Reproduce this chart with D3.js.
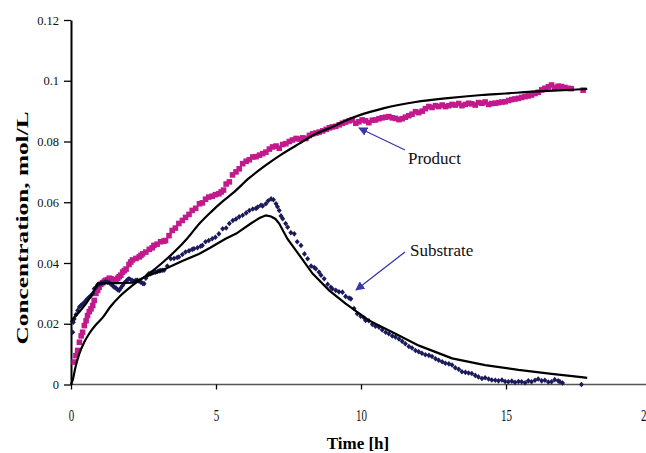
<!DOCTYPE html>
<html><head><meta charset="utf-8">
<script src="https://cdn.jsdelivr.net/npm/d3@7/dist/d3.min.js"></script>
<style>body{margin:0;background:#fff}svg{display:block}</style>
</head><body><svg id="c" width="646" height="453"></svg>
<script>
// Product measured (time h, concentration mol/L)
const productT = [0.11,0.17,0.23,0.29,0.35,0.40,0.46,0.52,0.57,0.63,0.69,0.75,0.80,0.86,0.92,0.97,1.03,1.09,1.15,1.20,1.26,1.32,1.38,1.44,1.49,1.55,1.61,1.66,1.72,1.78,1.84,1.90,2.00,2.06,2.12,2.24,2.35,2.41,2.47,2.58,2.70,2.80,2.86,2.97,3.09,3.20,3.26,3.38,3.49,3.60,3.72,3.84,3.95,4.07,4.18,4.30,4.43,4.53,4.64,4.75,4.87,4.98,5.10,5.18,5.26,5.35,5.46,5.57,5.69,5.80,5.92,6.04,6.15,6.27,6.38,6.50,6.61,6.72,6.84,6.95,7.07,7.18,7.30,7.41,7.53,7.64,7.76,7.87,7.99,8.10,8.22,8.33,8.45,8.56,8.68,8.80,8.91,9.01,9.13,9.25,9.36,9.47,9.59,9.70,9.82,9.93,10.04,10.16,10.27,10.39,10.50,10.62,10.73,10.85,10.96,11.08,11.19,11.31,11.42,11.53,11.65,11.76,11.88,11.99,12.11,12.22,12.34,12.45,12.57,12.68,12.80,12.91,13.03,13.14,13.25,13.37,13.48,13.60,13.71,13.82,13.94,14.05,14.17,14.28,14.40,14.51,14.63,14.74,14.86,14.97,15.09,15.20,15.31,15.43,15.54,15.66,15.77,15.88,16.00,16.11,16.23,16.34,16.46,16.57,16.68,16.80,16.91,17.03,17.14,17.25,17.66];
const productC = [0.0074,0.0095,0.0112,0.0139,0.016,0.0172,0.0194,0.021,0.0227,0.024,0.0249,0.026,0.0277,0.030,0.031,0.032,0.033,0.0335,0.034,0.0343,0.0345,0.035,0.0348,0.0345,0.0343,0.0343,0.035,0.0355,0.036,0.037,0.0375,0.038,0.0395,0.0403,0.041,0.0415,0.042,0.0425,0.043,0.0436,0.0445,0.045,0.0458,0.0462,0.047,0.0472,0.0474,0.049,0.0507,0.0515,0.053,0.054,0.055,0.056,0.0573,0.058,0.0595,0.0598,0.061,0.0617,0.062,0.0625,0.0628,0.0634,0.064,0.066,0.0667,0.069,0.070,0.071,0.0727,0.0735,0.074,0.0749,0.075,0.0755,0.076,0.0765,0.0775,0.0782,0.0785,0.0778,0.079,0.0793,0.080,0.0805,0.081,0.0808,0.0812,0.081,0.082,0.0825,0.0828,0.0831,0.0835,0.084,0.0845,0.0848,0.085,0.0855,0.086,0.0864,0.0868,0.0871,0.086,0.0865,0.0871,0.0868,0.0862,0.087,0.0871,0.0875,0.0878,0.088,0.0882,0.0878,0.0876,0.0872,0.0875,0.088,0.0885,0.089,0.0898,0.0895,0.090,0.0908,0.0915,0.0912,0.0918,0.0915,0.092,0.0915,0.0918,0.0922,0.092,0.0925,0.0918,0.0922,0.0926,0.0924,0.092,0.0928,0.0926,0.093,0.0922,0.0925,0.0926,0.0928,0.093,0.0931,0.0935,0.0938,0.094,0.0942,0.0945,0.0948,0.095,0.0953,0.0958,0.0962,0.097,0.0975,0.098,0.0986,0.0978,0.0982,0.0981,0.0978,0.0975,0.0974,0.0969];

// Substrate measured
const substrateT = [0.06,0.08,0.11,0.17,0.23,0.29,0.34,0.40,0.46,0.52,0.57,0.63,0.69,0.75,0.80,0.86,0.92,0.97,1.03,1.09,1.15,1.20,1.26,1.32,1.38,1.44,1.49,1.55,1.61,1.66,1.72,1.78,1.84,1.90,1.95,2.00,2.06,2.12,2.18,2.24,2.29,2.35,2.41,2.47,2.52,2.58,2.64,2.69,2.75,2.81,2.86,2.92,2.98,3.04,3.09,3.15,3.21,3.32,3.44,3.55,3.66,3.72,3.84,3.95,4.07,4.18,4.24,4.36,4.47,4.53,4.64,4.75,4.87,4.98,5.10,5.23,5.35,5.46,5.58,5.69,5.80,5.92,6.04,6.15,6.27,6.38,6.44,6.55,6.61,6.72,6.80,6.90,6.98,7.07,7.12,7.18,7.24,7.30,7.40,7.47,7.58,7.70,7.80,7.93,8.05,8.16,8.28,8.39,8.44,8.55,8.62,8.73,8.85,8.96,9.01,9.13,9.24,9.36,9.47,9.59,9.65,9.76,9.87,9.99,10.10,10.16,10.27,10.39,10.50,10.62,10.73,10.85,10.96,11.08,11.19,11.31,11.42,11.53,11.65,11.76,11.88,11.99,12.10,12.22,12.34,12.45,12.57,12.68,12.80,12.91,13.03,13.14,13.25,13.37,13.48,13.60,13.71,13.82,13.94,14.05,14.17,14.28,14.40,14.51,14.63,14.74,14.86,14.97,15.08,15.20,15.31,15.43,15.54,15.66,15.77,15.88,16.00,16.11,16.23,16.34,16.46,16.57,16.68,16.80,16.86,16.95,17.60];
const substrateC = [0.0172,0.0205,0.0216,0.023,0.0244,0.0255,0.026,0.0265,0.027,0.0277,0.0282,0.0288,0.0293,0.030,0.0315,0.032,0.0328,0.033,0.0332,0.0335,0.0336,0.0338,0.0337,0.0335,0.033,0.0325,0.032,0.0318,0.0312,0.031,0.0318,0.0326,0.0335,0.034,0.0345,0.0348,0.0345,0.0342,0.034,0.0343,0.0343,0.034,0.0337,0.0333,0.0332,0.035,0.036,0.0365,0.0365,0.0368,0.037,0.037,0.0372,0.0374,0.0375,0.0376,0.0376,0.039,0.0414,0.0415,0.0418,0.042,0.0428,0.0436,0.044,0.0445,0.0447,0.045,0.0455,0.0458,0.047,0.0474,0.048,0.0485,0.0496,0.0513,0.0515,0.053,0.054,0.0545,0.0552,0.0557,0.0565,0.0573,0.0578,0.058,0.0584,0.059,0.0588,0.0595,0.0605,0.0611,0.0608,0.0595,0.0585,0.0573,0.0555,0.0546,0.053,0.0518,0.050,0.0496,0.047,0.0458,0.043,0.0414,0.039,0.0385,0.0381,0.037,0.036,0.0348,0.033,0.032,0.0315,0.031,0.0305,0.0304,0.029,0.0285,0.0282,0.025,0.0233,0.0225,0.022,0.0211,0.021,0.0198,0.0192,0.0189,0.018,0.0172,0.0167,0.016,0.0156,0.015,0.0142,0.0134,0.0125,0.012,0.0112,0.0108,0.0103,0.0098,0.0096,0.0092,0.0085,0.008,0.0075,0.007,0.0068,0.0064,0.0055,0.005,0.0042,0.004,0.0038,0.0036,0.003,0.0025,0.002,0.0022,0.0018,0.0015,0.0014,0.0012,0.0015,0.001,0.0009,0.0011,0.0007,0.001,0.0009,0.0006,0.0012,0.0009,0.0014,0.0018,0.0012,0.0014,0.0008,0.0009,0.0016,0.0012,0.0009,0.0005,0.0];

// Model curves
const productModelT = [0,0.06,0.15,0.29,0.45,0.63,0.85,1.09,1.35,1.66,2.12,2.69,3.2,3.61,4.0,4.43,4.85,5.27,5.58,6.15,6.72,7.3,7.87,8.4,9.01,9.5,9.93,10.8,11.88,13.0,14.17,15.0,15.88,16.8,17.6,17.8];
const productModelC = [0,0.0015,0.0055,0.0102,0.0138,0.0168,0.0196,0.022,0.0255,0.0288,0.0326,0.0365,0.0405,0.0441,0.048,0.053,0.057,0.0606,0.063,0.068,0.0722,0.076,0.0793,0.0823,0.0848,0.087,0.0886,0.091,0.093,0.0943,0.0953,0.0958,0.0964,0.0968,0.0972,0.0973];
const substrateModelT = [0,0.06,0.3,0.52,0.75,0.92,1.2,1.55,2.12,2.69,3.26,3.8,4.41,4.8,5.33,5.7,6.2,6.5,6.72,6.9,7.05,7.18,7.46,7.76,8.33,8.9,9.47,10.27,11.19,12.0,13.14,14.28,15.43,16.57,17.6,17.8];
const substrateModelC = [0.0205,0.0216,0.024,0.0266,0.030,0.0332,0.0334,0.0334,0.0335,0.036,0.0381,0.0405,0.043,0.045,0.048,0.0497,0.053,0.0548,0.0557,0.0553,0.0545,0.053,0.048,0.0441,0.0365,0.031,0.0266,0.0211,0.0167,0.0128,0.0086,0.0064,0.0048,0.0035,0.0024,0.0022];

const xTicks = [0,5,10,15,20];
const yTicks = [0,0.02,0.04,0.06,0.08,0.1,0.12];
const xTitle = "Time [h]";
const yTitle = "Concentration, mol/L";

const svg = d3.select("#c");
const x = d3.scaleLinear().domain([0,20]).range([71,651]);
const y = d3.scaleLinear().domain([0,0.12]).range([384.5,20]);
const serif = "'Liberation Serif','Times New Roman',serif";

// X axis
const gx = svg.append("g").attr("transform","translate(0,384.5)")
  .call(d3.axisBottom(x).tickValues(xTicks).tickFormat(d3.format("d")).tickSize(5).tickSizeOuter(0));
gx.select(".domain").attr("stroke","#555").attr("stroke-width",1.6).attr("d","M71,0H646");
gx.selectAll(".tick line").attr("stroke","#000").attr("stroke-width",1.3);
gx.selectAll(".tick text").attr("font-family",serif).attr("font-size",11).attr("fill","#111")
  .attr("y",0).attr("dy",0).attr("transform",d => d===20 ? "translate(-5,36) scale(1,1.45)" : "translate(0,36) scale(1,1.45)");

// Y axis
const gy = svg.append("g").attr("transform","translate(71,0)")
  .call(d3.axisLeft(y).tickValues(yTicks).tickFormat(d => d===0?"0":d3.format("")(+d.toFixed(2))).tickSize(7).tickSizeOuter(0));
gy.select(".domain").attr("stroke","#000").attr("stroke-width",2);
gy.selectAll(".tick line").attr("stroke","#000").attr("stroke-width",1.3);
gy.selectAll(".tick text").attr("font-family",serif).attr("font-size",12.5).attr("fill","#111").attr("x",-12);

// titles
svg.append("text").attr("x",358).attr("y",449).attr("text-anchor","middle")
  .attr("font-family",serif).attr("font-weight","bold").attr("font-size",17).text(xTitle);
svg.append("text").attr("transform","translate(28,228) rotate(-90)").attr("text-anchor","middle")
  .attr("font-family",serif).attr("font-weight","bold").attr("font-size",17)
  .attr("textLength",233).attr("lengthAdjust","spacingAndGlyphs").text(yTitle);

// model lines
const line = d3.line().x(d=>x(d[0])).y(d=>y(d[1])).curve(d3.curveMonotoneX);
const pm = d3.zip(productModelT, productModelC);
const sm = d3.zip(substrateModelT, substrateModelC);

// markers
const prod = d3.zip(productT, productC);
const sub = d3.zip(substrateT, substrateC);
svg.append("g").selectAll("rect").data(prod).join("rect")
  .attr("x",d=>x(d[0])-2.8).attr("y",d=>y(d[1])-2.8).attr("width",5.6).attr("height",5.6).attr("fill","#c21a8d");
svg.append("g").selectAll("path").data(sub).join("path")
  .attr("d",d=>{const cx=x(d[0]),cy=y(d[1]);return `M${cx},${cy-2.8}L${cx+2.5},${cy}L${cx},${cy+2.8}L${cx-2.5},${cy}Z`;})
  .attr("fill","#1b1b5c");

svg.append("path").datum(pm).attr("d",line).attr("fill","none").attr("stroke","#000").attr("stroke-width",2.2);
svg.append("path").datum(sm).attr("d",d3.line().x(d=>x(d[0])).y(d=>y(d[1])).curve(d3.curveLinear)).attr("fill","none").attr("stroke","#000").attr("stroke-width",2.2);

// annotations
const defs = svg.append("defs");
defs.append("marker").attr("id","ah").attr("viewBox","0 0 10 10").attr("refX",9).attr("refY",5)
  .attr("markerWidth",7).attr("markerHeight",7).attr("orient","auto")
  .append("path").attr("d","M0,0L10,5L0,10Z").attr("fill","#3838a8");
svg.append("line").attr("x1",405).attr("y1",150).attr("x2",359).attr("y2",128)
  .attr("stroke","#3838a8").attr("stroke-width",1.3).attr("marker-end","url(#ah)");
svg.append("line").attr("x1",405).attr("y1",252).attr("x2",356).attr("y2",290)
  .attr("stroke","#3838a8").attr("stroke-width",1.3).attr("marker-end","url(#ah)");
svg.append("text").attr("x",408).attr("y",164).attr("font-family",serif).attr("font-size",17).attr("fill","#111").text("Product");
svg.append("text").attr("x",410).attr("y",256).attr("font-family",serif).attr("font-size",17).attr("fill","#111").text("Substrate");
</script></body></html>
